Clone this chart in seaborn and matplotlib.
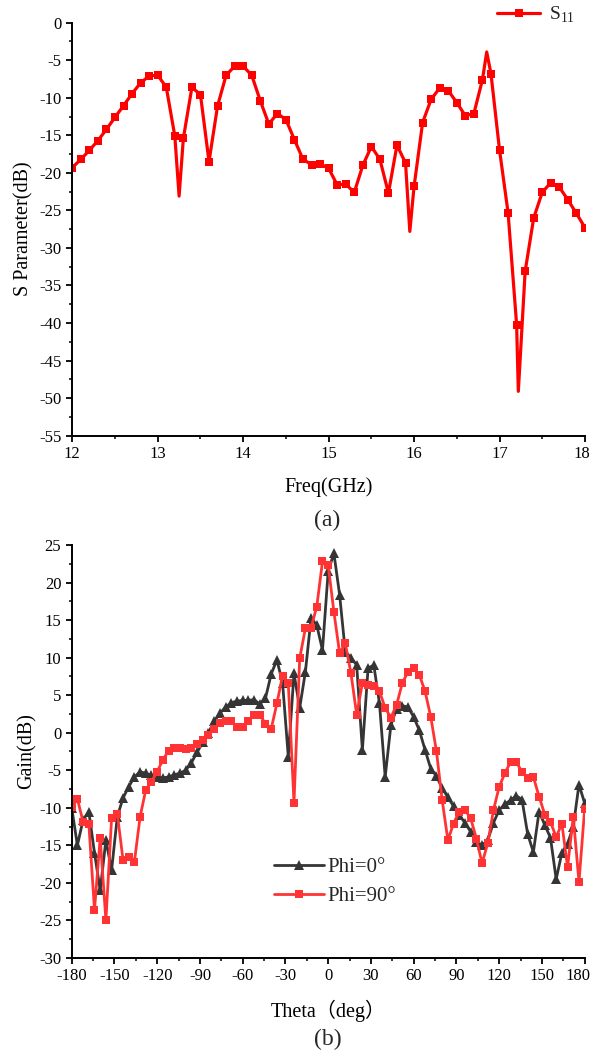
import numpy as np
import pandas as pd
import matplotlib
matplotlib.use("Agg")
import matplotlib.pyplot as plt
from matplotlib.ticker import MultipleLocator
from matplotlib.transforms import ScaledTranslation
import seaborn as sns

# ---- (a) reflection coefficient S11 versus frequency ----
freq_ghz = [12.0, 12.1, 12.2, 12.3, 12.4, 12.5, 12.6, 12.7, 12.8, 12.9,
            13.0, 13.1, 13.2, 13.25, 13.3, 13.4, 13.5, 13.6, 13.7, 13.8,
            13.9, 14.0, 14.1, 14.2, 14.3, 14.4, 14.5, 14.6, 14.7, 14.8,
            14.9, 15.0, 15.1, 15.2, 15.3, 15.4, 15.5, 15.6, 15.7, 15.8,
            15.9, 15.95, 16.0, 16.1, 16.2, 16.3, 16.4, 16.5, 16.6, 16.7,
            16.8, 16.85, 16.9, 17.0, 17.1, 17.2, 17.22, 17.3, 17.4, 17.5,
            17.6, 17.7, 17.8, 17.9, 18.0]
s11_db = [-19.3, -18.2, -17.0, -15.7, -14.2, -12.6, -11.05, -9.45, -8.0, -7.1,
          -7.0, -8.6, -15.1, -23.1, -15.4, -8.6, -9.6, -18.5, -11.1, -7.0,
          -5.8, -5.8, -7.0, -10.4, -13.5, -12.1, -12.9, -15.6, -18.2, -18.9,
          -18.8, -19.4, -21.6, -21.5, -22.6, -19.0, -16.5, -18.2, -22.7, -16.3,
          -18.7, -27.8, -21.8, -13.3, -10.2, -8.7, -9.05, -10.65, -12.4, -12.1,
          -7.6, -3.9, -6.8, -16.95, -25.3, -40.2, -49.1, -33.1, -26.0, -22.6,
          -21.3, -21.9, -23.6, -25.4, -27.3]

freq_ticks = [12, 13, 14, 15, 16, 17, 18]
s11_ticks = list(range(0, -60, -5))

# ---- (b) radiation pattern cuts ----
theta_deg = np.arange(-180, 181, 4)
gain_phi0 = [-10.0, -15.0, -11.6, -10.5, -16.0, -21.0, -14.3, -18.3, -11.2, -8.7,
             -7.2, -5.9, -5.2, -5.4, -5.7, -5.9, -6.0, -5.9, -5.6, -5.4,
             -5.0, -4.0, -2.6, -1.3, 0.0, 1.5, 2.6, 3.4, 4.0, 4.2,
             4.3, 4.3, 4.4, 3.8, 4.6, 7.8, 9.7, 6.6, -3.2, 7.9,
             3.3, 8.1, 15.3, 14.3, 11.0, 21.5, 23.9, 18.4, 10.8, 10.0,
             9.0, -2.3, 8.6, 9.0, 3.9, -5.9, 1.0, 3.2, 3.6, 3.4,
             2.1, 0.3, -2.3, -4.8, -5.8, -7.4, -8.6, -9.8, -11.0, -12.0,
             -13.2, -14.5, -15.0, -14.3, -12.0, -10.3, -9.5, -9.0, -8.4, -8.9,
             -13.5, -15.9, -10.5, -12.3, -14.0, -19.5, -16.0, -14.8, -12.5, -6.9,
             -9.4]
gain_phi90 = [-9.9, -8.8, -11.9, -12.1, -23.6, -14.0, -25.0, -11.4, -10.8, -16.9,
              -16.5, -17.2, -11.2, -7.6, -6.5, -5.2, -3.6, -2.4, -2.1, -2.1,
              -2.2, -2.0, -1.5, -1.0, -0.3, 0.5, 1.3, 1.6, 1.5, 0.7,
              0.7, 1.5, 2.4, 2.4, 1.2, 0.5, 3.9, 7.6, 6.6, -9.3,
              9.9, 13.9, 14.0, 16.8, 22.8, 22.3, 16.1, 10.6, 11.9, 7.9,
              2.4, 6.6, 6.4, 6.2, 5.5, 3.3, 2.0, 3.7, 6.6, 8.1,
              8.6, 7.7, 5.5, 2.1, -2.5, -9.0, -14.3, -12.1, -10.5, -10.3,
              -11.4, -14.1, -17.4, -14.7, -10.3, -7.2, -5.4, -3.9, -3.9, -5.2,
              -6.1, -5.9, -8.5, -10.9, -11.9, -13.9, -12.1, -17.9, -11.2, -19.9,
              -10.1]

theta_ticks = list(range(-180, 181, 30))
gain_ticks = list(range(-30, 26, 5))

# ---- styling ----
sns.set_theme(style="ticks")
plt.rcParams["font.family"] = ["Liberation Serif", "Noto Sans CJK SC"]
plt.rcParams["axes.unicode_minus"] = False
plt.rcParams["mathtext.fontset"] = "custom"
plt.rcParams["mathtext.rm"] = "Liberation Serif"
plt.rcParams["axes.linewidth"] = 1.4
plt.rcParams["axes.edgecolor"] = "black"
plt.rcParams["xtick.color"] = "black"
plt.rcParams["ytick.color"] = "black"
plt.rcParams["xtick.direction"] = "out"
plt.rcParams["ytick.direction"] = "out"

TICK_FS = 12
LABEL_FS = 14.5
CAP_FS = 17

fig = plt.figure(figsize=(5.94, 10.59), dpi=100)
ax1 = fig.add_axes([0.1217, 0.5886, 0.8631, 0.39])
ax2 = fig.add_axes([0.1207, 0.0954, 0.8636, 0.39])


def style_axes(ax, xmaj, xmin, ymaj, ymin):
    ax.xaxis.set_major_locator(MultipleLocator(xmaj))
    ax.xaxis.set_minor_locator(MultipleLocator(xmin))
    ax.yaxis.set_major_locator(MultipleLocator(ymaj))
    ax.yaxis.set_minor_locator(MultipleLocator(ymin))
    ax.tick_params(which="major", length=4.5, width=1.3, labelsize=TICK_FS,
                   colors="black", pad=3)
    ax.tick_params(which="minor", length=2.5, width=1.1, colors="black")
    sns.despine(ax=ax)
    ax.grid(False)
    ax.set_facecolor("white")


def nudge_last_xlabel(ax, dx_points):
    # keep the rightmost tick label inside the canvas
    fig.canvas.draw()
    lab = ax.get_xticklabels()[-1]
    lab.set_transform(lab.get_transform()
                      + ScaledTranslation(dx_points / 72, 0, fig.dpi_scale_trans))


# (a)
df_s = pd.DataFrame({"Freq": freq_ghz, "S11": s11_db})
marker_idx = [i for i, f in enumerate(freq_ghz) if abs(f * 10 - round(f * 10)) < 1e-6]
sns.lineplot(data=df_s, x="Freq", y="S11", ax=ax1, color="#FF0000",
             linewidth=2.3, marker="s", markersize=6.2, markeredgewidth=0,
             markevery=marker_idx, estimator=None, sort=False,
             label="S$_{\\mathregular{11}}$")
ax1.set_xlim(12, 18)
ax1.set_ylim(-55, 0)
style_axes(ax1, 1, 0.5, 5, 2.5)
ax1.set_xticks(freq_ticks)
ax1.set_yticks(s11_ticks)
ax1.set_xlabel("Freq(GHz)", fontsize=LABEL_FS, color="black", labelpad=11)
ax1.set_ylabel("S Parameter(dB)", fontsize=LABEL_FS, color="black", labelpad=4)
ax1.legend(loc="center left", bbox_to_anchor=(0.824, 0.986),
           bbox_transform=fig.transFigure, frameon=False, fontsize=14,
           handlelength=2.2, handletextpad=0.45, borderaxespad=0)
fig.text(0.55, 0.509, "(a)", ha="center", va="center", fontsize=CAP_FS)

# (b)
df_g = pd.DataFrame({
    "Theta": np.concatenate([theta_deg, theta_deg]),
    "Gain": gain_phi0 + gain_phi90,
    "Cut": ["Phi=0°"] * len(theta_deg) + ["Phi=90°"] * len(theta_deg),
})
sns.lineplot(data=df_g[df_g["Cut"] == "Phi=0°"], x="Theta", y="Gain", ax=ax2,
             color="#353535", linewidth=2.0, marker="^", markersize=7.5,
             markeredgewidth=0, estimator=None, label="Phi=0°")
sns.lineplot(data=df_g[df_g["Cut"] == "Phi=90°"], x="Theta", y="Gain", ax=ax2,
             color="#FF3333", linewidth=2.0, marker="s", markersize=6.2,
             markeredgewidth=0, estimator=None, label="Phi=90°")
ax2.set_xlim(-180, 180)
ax2.set_ylim(-30, 25)
style_axes(ax2, 30, 15, 5, 2.5)
ax2.set_xticks(theta_ticks)
ax2.set_yticks(gain_ticks)
ax2.set_xlabel("Theta（deg）", fontsize=LABEL_FS, color="black", labelpad=11)
ax2.set_ylabel("Gain(dB)", fontsize=LABEL_FS, color="black", labelpad=2)
ax2.legend(loc="center left", bbox_to_anchor=(0.447, 0.167),
           bbox_transform=fig.transFigure, frameon=False, fontsize=15,
           handlelength=2.4, handletextpad=0.15, labelspacing=0.45,
           borderaxespad=0)
fig.text(0.552, 0.018, "(b)", ha="center", va="center", fontsize=CAP_FS)

nudge_last_xlabel(ax1, -2.5)
nudge_last_xlabel(ax2, -5)

fig.savefig("out.png", dpi=100, facecolor="white")
